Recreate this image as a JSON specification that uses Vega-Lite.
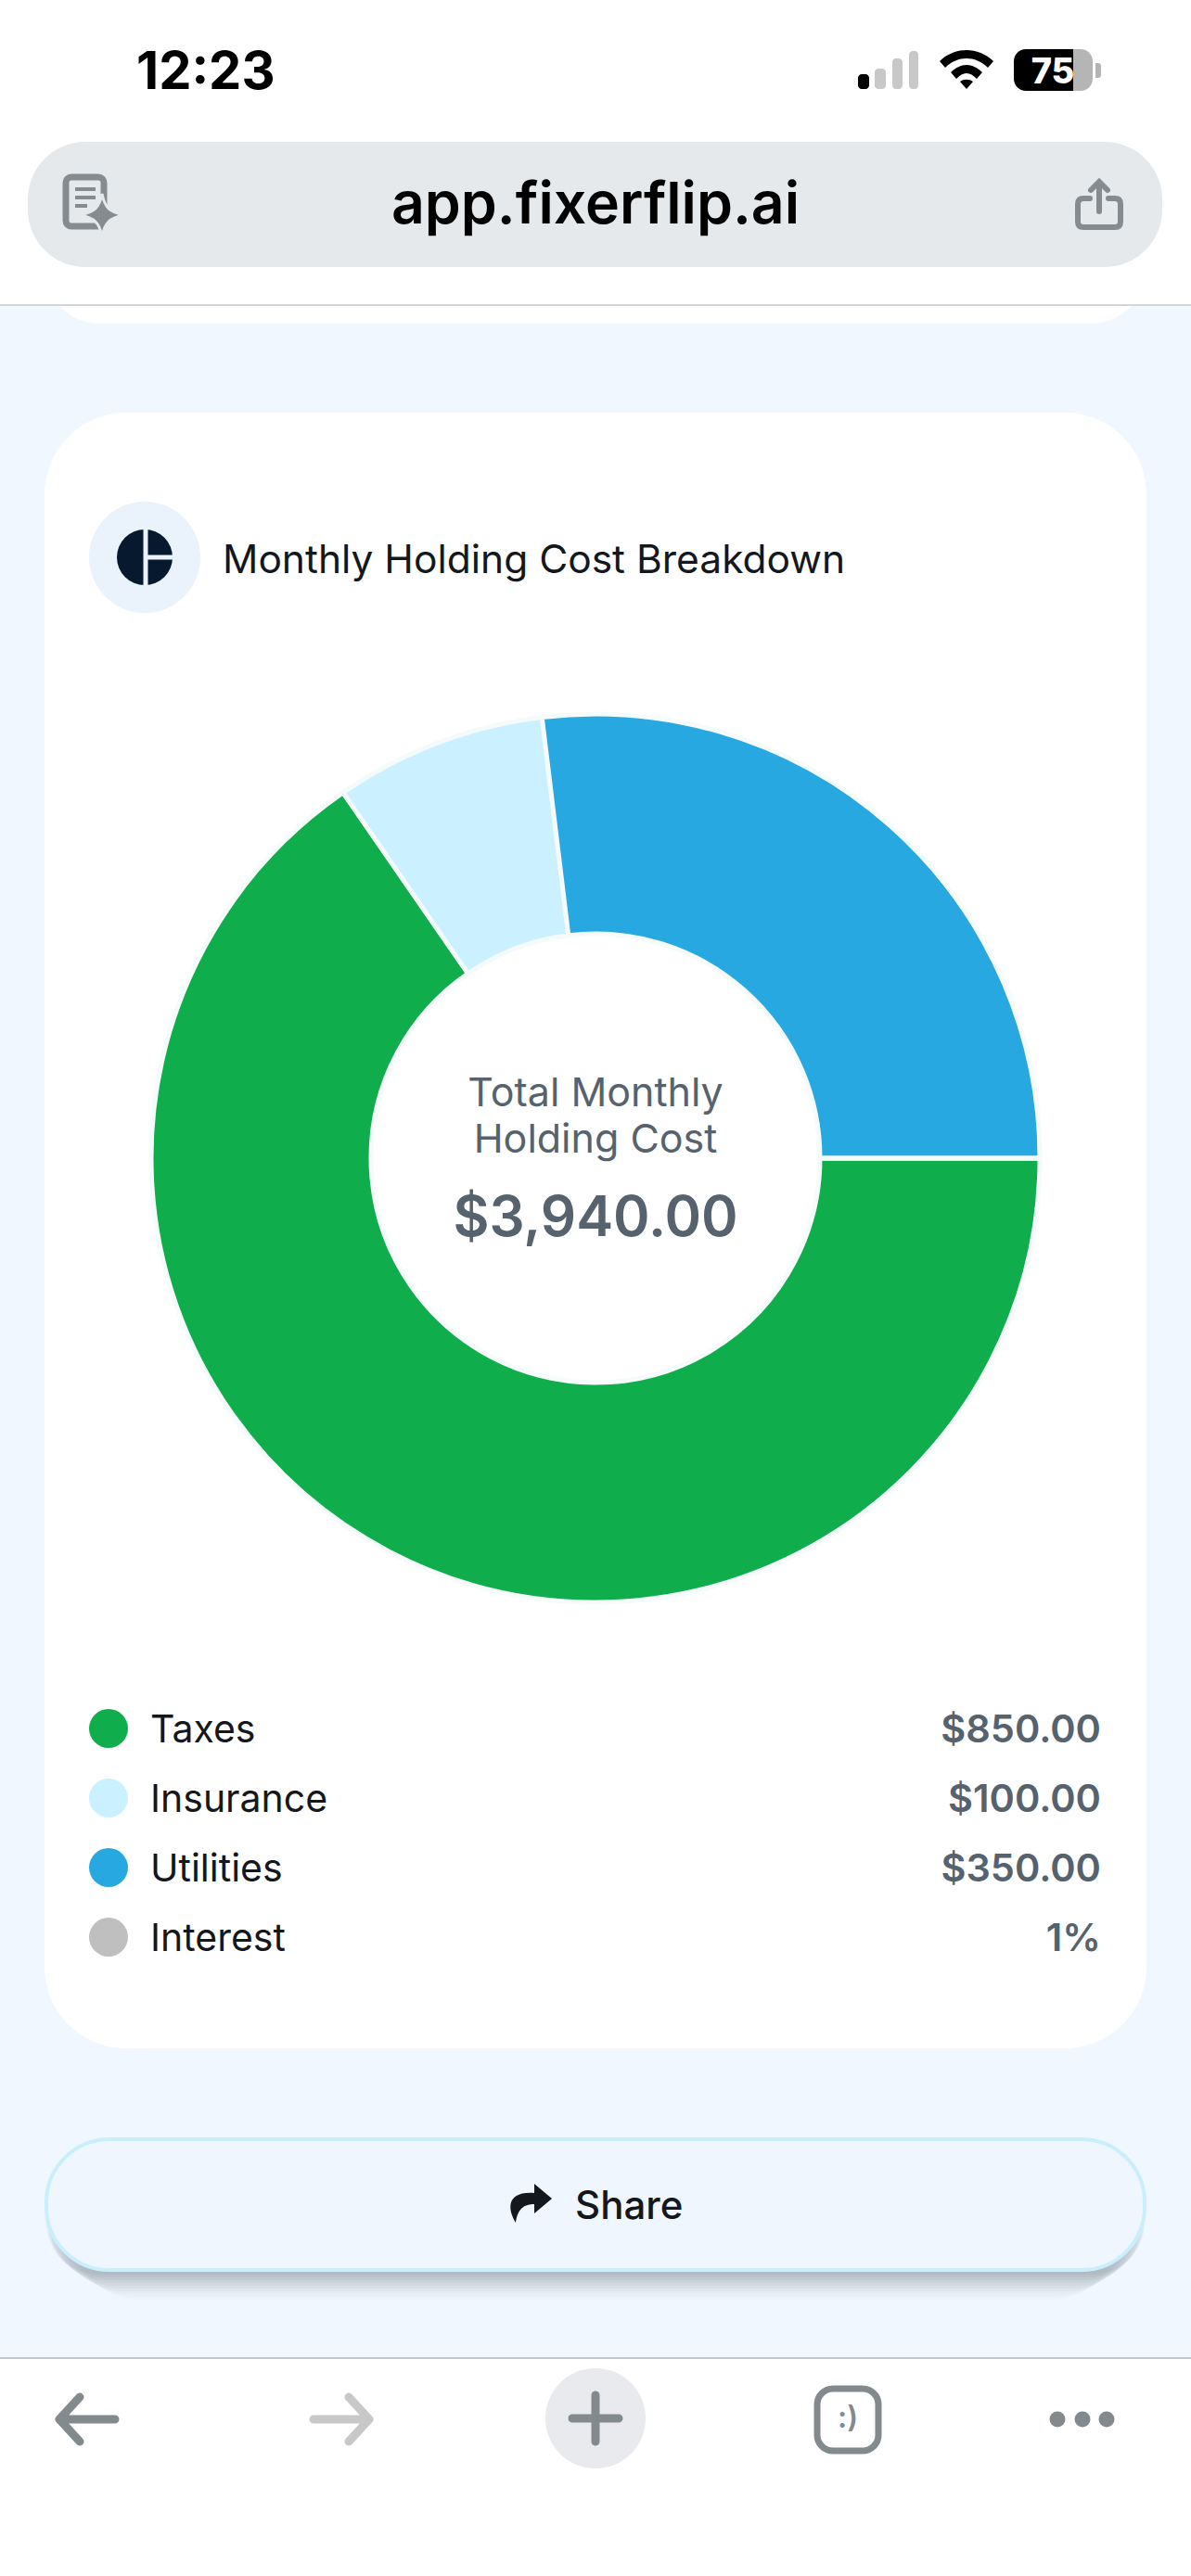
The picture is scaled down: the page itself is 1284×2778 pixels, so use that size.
{
  "$schema": "https://vega.github.io/schema/vega-lite/v6.json",
  "width": 1284,
  "height": 2778,
  "padding": 0,
  "autosize": {"type": "fit", "contains": "padding"},
  "background": "#F0F7FE",
  "config": {"view": {"stroke": null}, "text": {"font": "Inter"}},
  "data": {
    "values": [
      {"category": "Taxes", "amount": 850, "label": "$850.00", "rank": 1},
      {"category": "Insurance", "amount": 100, "label": "$100.00", "rank": 2},
      {"category": "Utilities", "amount": 350, "label": "$350.00", "rank": 3},
      {"category": "Interest", "amount": 0, "label": "1%", "rank": 4}
    ]
  },
  "layer": [
    {"data": {"values": [{}]}, "mark": {"type": "rect", "fill": "#FFFFFF", "cornerRadius": 60}, "encoding": {"x": {"value": 48}, "x2": {"value": 1236}, "y": {"value": 200}, "y2": {"value": 349}}},
    {"data": {"values": [{}]}, "mark": {"type": "rect", "fill": "#FFFFFF"}, "encoding": {"x": {"value": 0}, "x2": {"value": 1284}, "y": {"value": 0}, "y2": {"value": 328}}},
    {"data": {"values": [{}]}, "mark": {"type": "rect", "fill": "#D3D6D9"}, "encoding": {"x": {"value": 0}, "x2": {"value": 1284}, "y": {"value": 328}, "y2": {"value": 330}}},
    {"data": {"values": [{}]}, "mark": {"type": "text", "text": "12:23", "font": "Inter", "fontSize": 56, "fontWeight": 700, "fill": "#000000", "align": "left", "baseline": "alphabetic"}, "encoding": {"x": {"value": 147}, "y": {"value": 96}}},
    {"data": {"values": [{}]}, "mark": {"type": "rect", "fill": "#000000", "cornerRadius": 4}, "encoding": {"x": {"value": 925}, "x2": {"value": 937}, "y": {"value": 80}, "y2": {"value": 96}}},
    {"data": {"values": [{}]}, "mark": {"type": "rect", "fill": "#C8C8C8", "cornerRadius": 4}, "encoding": {"x": {"value": 943}, "x2": {"value": 955}, "y": {"value": 74}, "y2": {"value": 96}}},
    {"data": {"values": [{}]}, "mark": {"type": "rect", "fill": "#C8C8C8", "cornerRadius": 4}, "encoding": {"x": {"value": 962}, "x2": {"value": 973}, "y": {"value": 63}, "y2": {"value": 96}}},
    {"data": {"values": [{}]}, "mark": {"type": "rect", "fill": "#C8C8C8", "cornerRadius": 4}, "encoding": {"x": {"value": 980}, "x2": {"value": 990}, "y": {"value": 55}, "y2": {"value": 96}}},
    {"data": {"values": [{}]}, "mark": {"type": "point", "filled": true, "fill": "#000000", "opacity": 1, "size": 4, "shape": "M-29,-9 C-21,-17 -10,-21 0,-21 C10,-21 21,-17 29,-9 L23,-2 C16,-9 8,-12 0,-12 C-8,-12 -16,-9 -23,-2 Z M-17,3 C-12,-2 -6,-5 0,-5 C6,-5 12,-2 17,3 L11,10 C7,6 4,4 0,4 C-4,4 -7,6 -11,10 Z M-7,13 C-3,10 3,10 7,13 L0,21 Z"}, "encoding": {"x": {"value": 1042}, "y": {"value": 75}}},
    {"data": {"values": [{}]}, "mark": {"type": "rect", "fill": "#B5B5B5", "cornerRadius": 13}, "encoding": {"x": {"value": 1120}, "x2": {"value": 1178}, "y": {"value": 53}, "y2": {"value": 98}}},
    {"data": {"values": [{}]}, "mark": {"type": "rect", "fill": "#000000", "cornerRadiusTopLeft": 13, "cornerRadiusBottomLeft": 13}, "encoding": {"x": {"value": 1093}, "x2": {"value": 1157}, "y": {"value": 53}, "y2": {"value": 98}}},
    {"data": {"values": [{}]}, "mark": {"type": "rect", "fill": "#B5B5B5", "cornerRadiusTopRight": 6, "cornerRadiusBottomRight": 6}, "encoding": {"x": {"value": 1181}, "x2": {"value": 1187}, "y": {"value": 68}, "y2": {"value": 84}}},
    {"data": {"values": [{}]}, "mark": {"type": "text", "text": "75", "font": "Inter", "fontSize": 38, "fontWeight": 800, "fill": "#FFFFFF", "align": "center", "baseline": "alphabetic"}, "encoding": {"x": {"value": 1135}, "y": {"value": 90}}},

    {"data": {"values": [{}]}, "mark": {"type": "rect", "fill": "#E5E9EC", "cornerRadius": 62}, "encoding": {"x": {"value": 30}, "x2": {"value": 1253}, "y": {"value": 153}, "y2": {"value": 288}}},
    {"data": {"values": [{}]}, "mark": {"type": "text", "text": "app.fixerflip.ai", "font": "Inter", "fontSize": 62.5, "fontWeight": 600, "fill": "#000000", "align": "center", "baseline": "alphabetic"}, "encoding": {"x": {"value": 642}, "y": {"value": 241}}},
    {"data": {"values": [{}]}, "mark": {"type": "rect", "fill": "#E5E9EC", "stroke": "#858B8F", "strokeWidth": 7, "cornerRadius": 6}, "encoding": {"x": {"value": 71}, "x2": {"value": 112}, "y": {"value": 191}, "y2": {"value": 244}}},
    {"data": {"values": [{}]}, "mark": {"type": "rule", "stroke": "#858B8F", "strokeWidth": 4}, "encoding": {"x": {"value": 81}, "x2": {"value": 103}, "y": {"value": 204}}},
    {"data": {"values": [{}]}, "mark": {"type": "rule", "stroke": "#858B8F", "strokeWidth": 4}, "encoding": {"x": {"value": 81}, "x2": {"value": 103}, "y": {"value": 213}}},
    {"data": {"values": [{}]}, "mark": {"type": "rule", "stroke": "#858B8F", "strokeWidth": 4}, "encoding": {"x": {"value": 81}, "x2": {"value": 94}, "y": {"value": 222}}},
    {"data": {"values": [{}]}, "mark": {"type": "point", "filled": true, "fill": "#858B8F", "stroke": "#E5E9EC", "strokeWidth": 3, "opacity": 1, "size": 4, "shape": "M0,-23 C3,-8 8,-3 24,0 C8,3 3,8 0,23 C-3,8 -8,3 -24,0 C-8,-3 -3,-8 0,-23 Z"}, "encoding": {"x": {"value": 110}, "y": {"value": 232}}},
    {"data": {"values": [{}]}, "mark": {"type": "point", "filled": false, "stroke": "#858B8F", "strokeWidth": 6, "strokeCap": "round", "opacity": 1, "size": 4, "shape": "M-10,-8 L-17,-8 Q-23,-8 -23,-2 L-23,17 Q-23,23 -17,23 L17,23 Q23,23 23,17 L23,-2 Q23,-8 17,-8 L10,-8 M0,6 L0,-25 M-9,-17 L0,-26 L9,-17"}, "encoding": {"x": {"value": 1185}, "y": {"value": 222}}},

    {"data": {"values": [{}]}, "mark": {"type": "rect", "fill": "#FFFFFF", "cornerRadius": 88}, "encoding": {"x": {"value": 48}, "x2": {"value": 1236}, "y": {"value": 445}, "y2": {"value": 2209}}},
    {"data": {"values": [{}]}, "mark": {"type": "point", "filled": true, "fill": "#EAF2FB", "opacity": 1, "size": 14400, "shape": "circle"}, "encoding": {"x": {"value": 156}, "y": {"value": 601}}},
    {"data": {"values": [{}]}, "mark": {"type": "point", "filled": true, "fill": "#06192E", "opacity": 1, "size": 3600, "shape": "circle"}, "encoding": {"x": {"value": 156}, "y": {"value": 601}}},
    {"data": {"values": [{}]}, "mark": {"type": "rule", "stroke": "#EAF2FB", "strokeWidth": 5}, "encoding": {"x": {"value": 157}, "y": {"value": 570}, "y2": {"value": 632}}},
    {"data": {"values": [{}]}, "mark": {"type": "rule", "stroke": "#EAF2FB", "strokeWidth": 5}, "encoding": {"x": {"value": 157}, "x2": {"value": 187}, "y": {"value": 601}}},
    {"data": {"values": [{}]}, "mark": {"type": "text", "text": "Monthly Holding Cost Breakdown", "font": "Inter", "fontSize": 42.5, "fontWeight": 400, "fill": "#14181D", "align": "left", "baseline": "alphabetic"}, "encoding": {"x": {"value": 240}, "y": {"value": 618}}},

    {
      "mark": {"type": "arc", "innerRadius": 242, "outerRadius": 479, "stroke": "#F4FBFA", "strokeWidth": 5},
      "encoding": {
        "x": {"value": 642},
        "y": {"value": 1249},
        "theta": {"field": "amount", "type": "quantitative", "stack": true, "scale": {"range": [1.5708, 7.854]}},
        "order": {"field": "rank"},
        "color": {"field": "category", "type": "nominal", "legend": null, "scale": {"domain": ["Taxes", "Insurance", "Utilities", "Interest"], "range": ["#0FAD4B", "#CBF0FF", "#27A8E0", "#BFBFBF"]}}
      }
    },
    {"data": {"values": [{}]}, "mark": {"type": "text", "text": "Total Monthly", "font": "Inter", "fontSize": 43, "fontWeight": 400, "fill": "#56636E", "align": "center", "baseline": "alphabetic"}, "encoding": {"x": {"value": 642}, "y": {"value": 1193}}},
    {"data": {"values": [{}]}, "mark": {"type": "text", "text": "Holding Cost", "font": "Inter", "fontSize": 43, "fontWeight": 400, "fill": "#56636E", "align": "center", "baseline": "alphabetic"}, "encoding": {"x": {"value": 642}, "y": {"value": 1243}}},
    {"data": {"values": [{}]}, "mark": {"type": "text", "text": "$3,940.00", "font": "Inter", "fontSize": 60, "fontWeight": 600, "fill": "#56636E", "align": "center", "baseline": "alphabetic"}, "encoding": {"x": {"value": 642}, "y": {"value": 1333}}},

    {
      "mark": {"type": "point", "filled": true, "opacity": 1, "size": 1764, "shape": "circle"},
      "encoding": {
        "x": {"value": 117},
        "y": {"field": "category", "type": "ordinal", "axis": null, "scale": {"type": "point", "padding": 0, "domain": ["Taxes", "Insurance", "Utilities", "Interest"], "range": [1864, 2089]}},
        "color": {"field": "category", "type": "nominal", "legend": null}
      }
    },
    {
      "mark": {"type": "text", "font": "Inter", "fontSize": 41, "fontWeight": 400, "fill": "#14181D", "align": "left", "baseline": "alphabetic", "dy": 15},
      "encoding": {
        "x": {"value": 162},
        "y": {"field": "category", "type": "ordinal", "axis": null},
        "text": {"field": "category"}
      }
    },
    {
      "mark": {"type": "text", "font": "Inter", "fontSize": 41.5, "fontWeight": 600, "fill": "#56636E", "align": "right", "baseline": "alphabetic", "dy": 15},
      "encoding": {
        "x": {"value": 1187},
        "y": {"field": "category", "type": "ordinal", "axis": null},
        "text": {"field": "label"}
      }
    },

    {"data": {"values": [{}]}, "mark": {"type": "rect", "fill": "#2A3A4A", "opacity": 0.015, "cornerRadius": 70}, "encoding": {"x": {"value": 80}, "x2": {"value": 1204}, "y": {"value": 2340}, "y2": {"value": 2480}}},
    {"data": {"values": [{}]}, "mark": {"type": "rect", "fill": "#2A3A4A", "opacity": 0.02, "cornerRadius": 70}, "encoding": {"x": {"value": 76}, "x2": {"value": 1208}, "y": {"value": 2340}, "y2": {"value": 2477}}},
    {"data": {"values": [{}]}, "mark": {"type": "rect", "fill": "#2A3A4A", "opacity": 0.02, "cornerRadius": 70}, "encoding": {"x": {"value": 72}, "x2": {"value": 1212}, "y": {"value": 2340}, "y2": {"value": 2474}}},
    {"data": {"values": [{}]}, "mark": {"type": "rect", "fill": "#2A3A4A", "opacity": 0.03, "cornerRadius": 70}, "encoding": {"x": {"value": 68}, "x2": {"value": 1216}, "y": {"value": 2340}, "y2": {"value": 2471}}},
    {"data": {"values": [{}]}, "mark": {"type": "rect", "fill": "#2A3A4A", "opacity": 0.03, "cornerRadius": 70}, "encoding": {"x": {"value": 64}, "x2": {"value": 1220}, "y": {"value": 2340}, "y2": {"value": 2468}}},
    {"data": {"values": [{}]}, "mark": {"type": "rect", "fill": "#2A3A4A", "opacity": 0.04, "cornerRadius": 70}, "encoding": {"x": {"value": 60}, "x2": {"value": 1224}, "y": {"value": 2340}, "y2": {"value": 2465}}},
    {"data": {"values": [{}]}, "mark": {"type": "rect", "fill": "#2A3A4A", "opacity": 0.04, "cornerRadius": 70}, "encoding": {"x": {"value": 57}, "x2": {"value": 1227}, "y": {"value": 2340}, "y2": {"value": 2462}}},
    {"data": {"values": [{}]}, "mark": {"type": "rect", "fill": "#2A3A4A", "opacity": 0.05, "cornerRadius": 70}, "encoding": {"x": {"value": 54}, "x2": {"value": 1230}, "y": {"value": 2340}, "y2": {"value": 2459}}},
    {"data": {"values": [{}]}, "mark": {"type": "rect", "fill": "#2A3A4A", "opacity": 0.05, "cornerRadius": 70}, "encoding": {"x": {"value": 52}, "x2": {"value": 1232}, "y": {"value": 2340}, "y2": {"value": 2456}}},
    {"data": {"values": [{}]}, "mark": {"type": "rect", "fill": "#2A3A4A", "opacity": 0.05, "cornerRadius": 70}, "encoding": {"x": {"value": 50}, "x2": {"value": 1234}, "y": {"value": 2340}, "y2": {"value": 2453}}},
    {"data": {"values": [{}]}, "mark": {"type": "rect", "fill": "#EFF6FD", "stroke": "#C9EFFD", "strokeWidth": 4, "cornerRadius": 68}, "encoding": {"x": {"value": 50}, "x2": {"value": 1234}, "y": {"value": 2307}, "y2": {"value": 2448}}},
    {"data": {"values": [{}]}, "mark": {"type": "point", "filled": true, "fill": "#14181D", "opacity": 1, "size": 4, "shape": "M6,-21 L25,-5 L6,11 L6,1 C-4,1 -12,5 -14,21 C-22,8 -26,-13 6,-11 Z"}, "encoding": {"x": {"value": 570}, "y": {"value": 2376}}},
    {"data": {"values": [{}]}, "mark": {"type": "text", "text": "Share", "font": "Inter", "fontSize": 42, "fontWeight": 500, "fill": "#14181D", "align": "left", "baseline": "alphabetic"}, "encoding": {"x": {"value": 620}, "y": {"value": 2393}}},

    {"data": {"values": [{}]}, "mark": {"type": "rect", "fill": "#FFFFFF"}, "encoding": {"x": {"value": 0}, "x2": {"value": 1284}, "y": {"value": 2542}, "y2": {"value": 2778}}},
    {"data": {"values": [{}]}, "mark": {"type": "rect", "fill": "#C2C7CC"}, "encoding": {"x": {"value": 0}, "x2": {"value": 1284}, "y": {"value": 2542}, "y2": {"value": 2544}}},
    {"data": {"values": [{}]}, "mark": {"type": "point", "filled": false, "stroke": "#838A8E", "strokeWidth": 9, "strokeCap": "round", "strokeJoin": "round", "opacity": 1, "size": 4, "shape": "M30,0 L-30,0 M-8,-24 L-30,0 L-8,24"}, "encoding": {"x": {"value": 94}, "y": {"value": 2609}}},
    {"data": {"values": [{}]}, "mark": {"type": "point", "filled": false, "stroke": "#C8C8C8", "strokeWidth": 9, "strokeCap": "round", "strokeJoin": "round", "opacity": 1, "size": 4, "shape": "M-30,0 L30,0 M8,-24 L30,0 L8,24"}, "encoding": {"x": {"value": 368}, "y": {"value": 2609}}},
    {"data": {"values": [{}]}, "mark": {"type": "point", "filled": true, "fill": "#E9EAEE", "opacity": 1, "size": 11664, "shape": "circle"}, "encoding": {"x": {"value": 642}, "y": {"value": 2608}}},
    {"data": {"values": [{}]}, "mark": {"type": "point", "filled": false, "stroke": "#838A8E", "strokeWidth": 9, "strokeCap": "round", "opacity": 1, "size": 4, "shape": "M-25,0 L25,0 M0,-25 L0,25"}, "encoding": {"x": {"value": 642}, "y": {"value": 2608}}},
    {"data": {"values": [{}]}, "mark": {"type": "rect", "fill": "#FFFFFF", "stroke": "#838A8E", "strokeWidth": 7, "cornerRadius": 17}, "encoding": {"x": {"value": 881}, "x2": {"value": 947}, "y": {"value": 2576}, "y2": {"value": 2643}}},
    {"data": {"values": [{}]}, "mark": {"type": "text", "text": ":)", "font": "Inter", "fontSize": 32, "fontWeight": 600, "fill": "#838A8E", "align": "center", "baseline": "middle"}, "encoding": {"x": {"value": 914}, "y": {"value": 2608}}},
    {"data": {"values": [{}]}, "mark": {"type": "point", "filled": true, "fill": "#838A8E", "opacity": 1, "size": 289, "shape": "circle"}, "encoding": {"x": {"value": 1140}, "y": {"value": 2609}}},
    {"data": {"values": [{}]}, "mark": {"type": "point", "filled": true, "fill": "#838A8E", "opacity": 1, "size": 289, "shape": "circle"}, "encoding": {"x": {"value": 1167}, "y": {"value": 2609}}},
    {"data": {"values": [{}]}, "mark": {"type": "point", "filled": true, "fill": "#838A8E", "opacity": 1, "size": 289, "shape": "circle"}, "encoding": {"x": {"value": 1193}, "y": {"value": 2609}}}
  ]
}
